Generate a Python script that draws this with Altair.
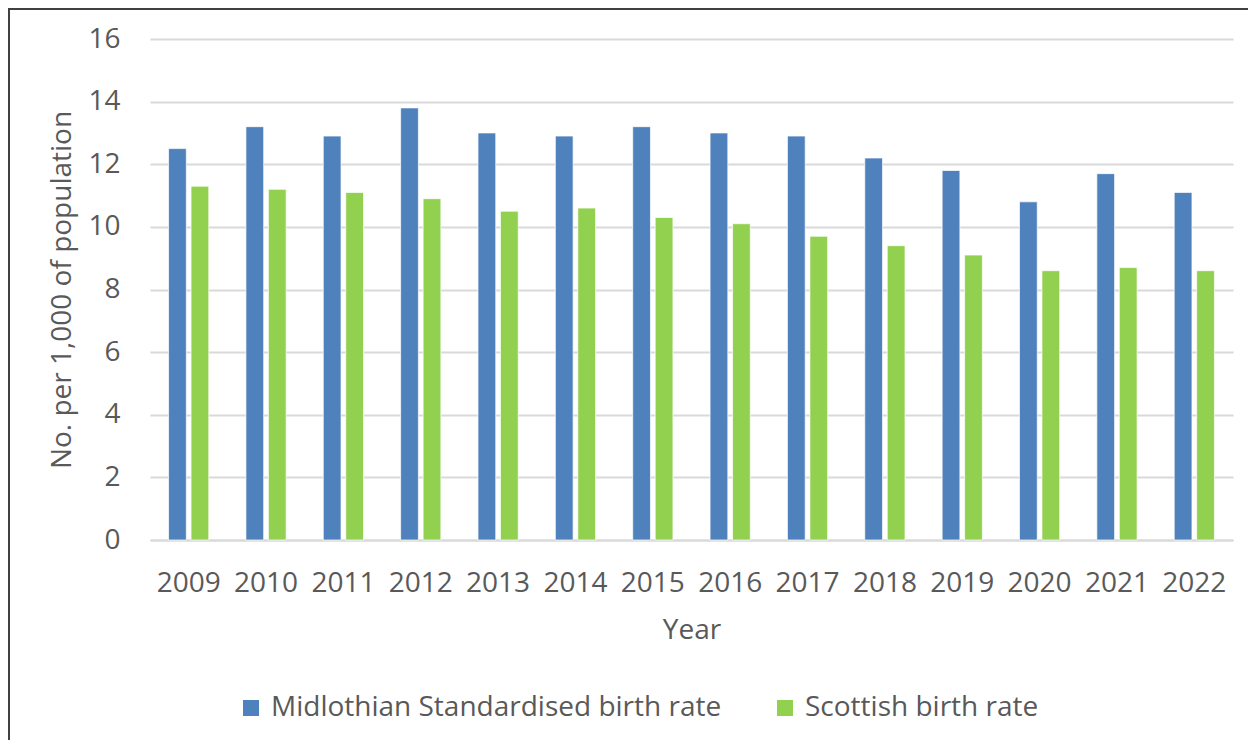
import altair as alt
import pandas as pd

years = ["2009", "2010", "2011", "2012", "2013", "2014", "2015",
         "2016", "2017", "2018", "2019", "2020", "2021", "2022"]
midlothian = [12.5, 13.2, 12.9, 13.8, 13.0, 12.9, 13.2,
              13.0, 12.9, 12.2, 11.8, 10.8, 11.7, 11.1]
scottish = [11.3, 11.2, 11.1, 10.9, 10.5, 10.6, 10.3,
            10.1, 9.7, 9.4, 9.1, 8.6, 8.7, 8.6]
series_names = ["Midlothian Standardised birth rate", "Scottish birth rate"]
series_colors = ["#4F81BD", "#92D050"]

rows = []
for i, y in enumerate(years):
    rows.append({"year": y, "series": series_names[0], "value": midlothian[i]})
    rows.append({"year": y, "series": series_names[1], "value": scottish[i]})
df = pd.DataFrame(rows)

FONT = "Open Sans"
TXT = "#595959"
FS = 28

bars = alt.Chart(df).mark_bar(stroke="#ffffff", strokeWidth=1, strokeOpacity=0.7).encode(
    x=alt.X("year:N", sort=years, title="Year",
            scale=alt.Scale(paddingInner=0.48, paddingOuter=0.24),
            axis=alt.Axis(labelAngle=0, labelFontSize=FS, labelColor=TXT, labelFont=FONT,
                          labelPadding=29, titleFontSize=FS, titleColor=TXT, titleFont=FONT,
                          titleFontWeight="normal", titlePadding=19, ticks=False,
                          domainColor="#d9d9d9", domainWidth=2, grid=False)),
    xOffset=alt.XOffset("series:N", sort=series_names,
                        scale=alt.Scale(paddingInner=0.21)),
    y=alt.Y("value:Q", title="No. per 1,000 of population",
            scale=alt.Scale(domain=[0, 16]),
            axis=alt.Axis(values=[0, 2, 4, 6, 8, 10, 12, 14, 16], labelFontSize=FS,
                          labelColor=TXT, labelFont=FONT, labelPadding=30,
                          titleFontSize=FS, titleColor=TXT, titleFont=FONT,
                          titleFontWeight="normal", titlePadding=11, ticks=False,
                          domain=False, gridColor="#d9d9d9", gridWidth=2)),
    color=alt.Color("series:N", sort=series_names,
                    scale=alt.Scale(domain=series_names, range=series_colors),
                    legend=alt.Legend(title=None, orient="none", legendX=87, legendY=655,
                                      direction="horizontal", symbolType="square",
                                      symbolSize=256, symbolStrokeWidth=0,
                                      labelFontSize=FS, labelColor=TXT, labelFont=FONT,
                                      labelOffset=6, columnPadding=49, labelLimit=800)),
)

frame = alt.Chart(pd.DataFrame({"a": [0]})).mark_rect(
    fill=None, stroke="#404040", strokeWidth=2
).encode(
    x=alt.value(-141), x2=alt.value(1200), y=alt.value(-30), y2=alt.value(900)
)

chart = alt.layer(frame, bars).properties(
    width=1083, height=501,
    autosize=alt.AutoSizeParams(type="none"),
    padding={"left": 142, "top": 31, "right": 15, "bottom": 200},
).configure_view(stroke=None)

chart.save("out.html", embed_options={"renderer": "svg", "actions": False})
